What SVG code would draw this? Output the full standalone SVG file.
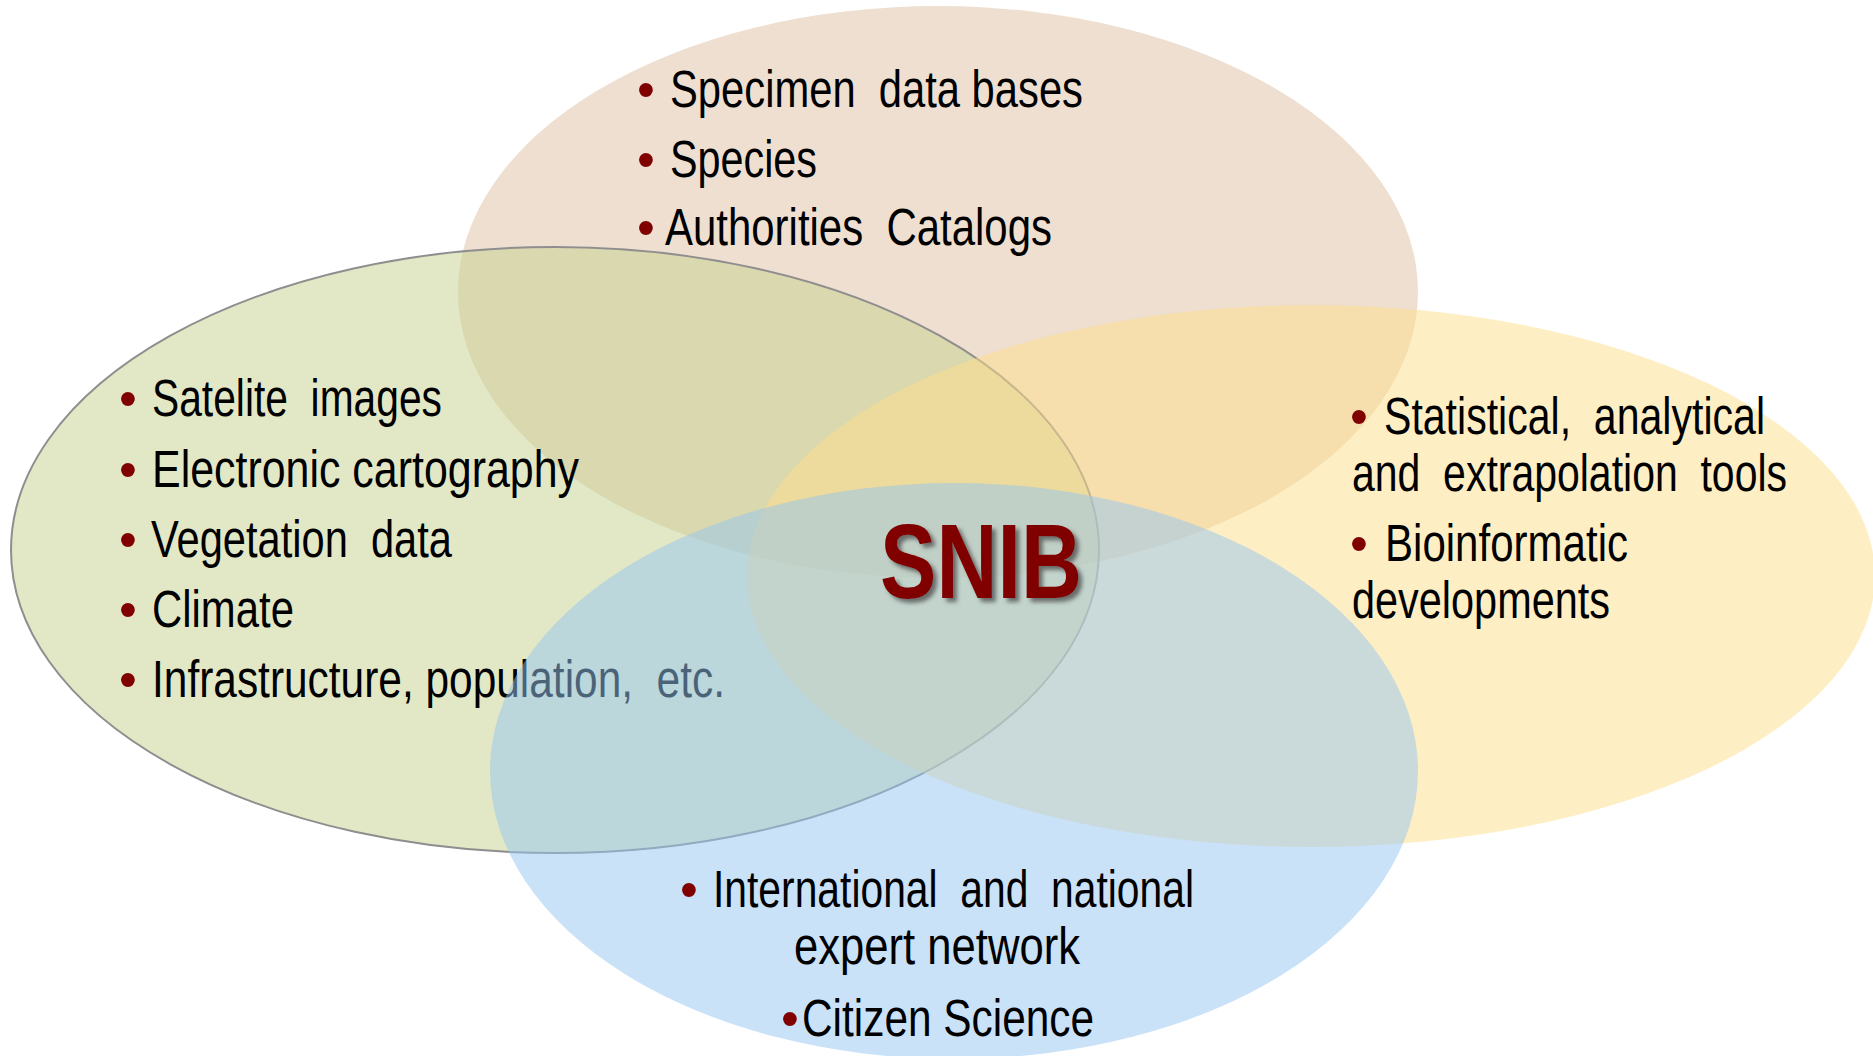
<svg xmlns="http://www.w3.org/2000/svg" width="1873" height="1056" viewBox="0 0 1873 1056">
<defs>
<style>
.t{font-family:"Liberation Sans",Arial,sans-serif;font-size:51px;fill:#000}
.b{font-family:"Liberation Sans",Arial,sans-serif;font-size:51px;fill:#800000;text-anchor:middle}
.e{fill-opacity:0.5}
</style>
<filter id="sh" x="-10%" y="-10%" width="130%" height="140%">
<feGaussianBlur in="SourceAlpha" stdDeviation="2"/>
<feOffset dx="4" dy="4" result="o"/>
<feFlood flood-color="#4a4a4a" flood-opacity="0.75"/>
<feComposite in2="o" operator="in" result="s"/>
<feMerge><feMergeNode in="s"/><feMergeNode in="SourceGraphic"/></feMerge>
</filter>
</defs>
<rect width="1873" height="1056" fill="#fff"/>
<g id="connectors"/>
<g id="node-top">
<ellipse class="e" cx="938" cy="292" rx="480" ry="286" fill="#DDBFA1"/>
<text class="b" x="646" y="107">•</text>
<text class="t" x="670" y="107" xml:space="preserve" textLength="413" lengthAdjust="spacingAndGlyphs">Specimen  data bases</text>
<text class="b" x="646" y="177">•</text>
<text class="t" x="670" y="177" textLength="147" lengthAdjust="spacingAndGlyphs">Species</text>
<text class="b" x="646" y="245">•</text>
<text class="t" x="665" y="245" xml:space="preserve" textLength="387" lengthAdjust="spacingAndGlyphs">Authorities  Catalogs</text>
</g>
<g id="node-left">
<ellipse class="e" cx="555" cy="550" rx="544" ry="303" fill="#C5D18D"/>
<ellipse cx="555" cy="550" rx="544" ry="303" fill="none" stroke="#8E8E8E" stroke-width="2"/>
<text class="b" x="128" y="416">•</text>
<text class="t" x="152" y="416" xml:space="preserve" textLength="290" lengthAdjust="spacingAndGlyphs">Satelite  images</text>
<text class="b" x="128" y="487">•</text>
<text class="t" x="152" y="487" textLength="427" lengthAdjust="spacingAndGlyphs">Electronic cartography</text>
<text class="b" x="128" y="557">•</text>
<text class="t" x="151" y="557" xml:space="preserve" textLength="301" lengthAdjust="spacingAndGlyphs">Vegetation  data</text>
<text class="b" x="128" y="627">•</text>
<text class="t" x="152" y="627" textLength="142" lengthAdjust="spacingAndGlyphs">Climate</text>
<text class="b" x="128" y="697">•</text>
<text class="t" x="152" y="697" xml:space="preserve" textLength="573" lengthAdjust="spacingAndGlyphs">Infrastructure, population,  etc.</text>
</g>
<g id="node-right">
<ellipse class="e" cx="1311" cy="576" rx="564" ry="271" fill="#FDDD89"/>
<text class="b" x="1359" y="434">•</text>
<text class="t" x="1384" y="434" xml:space="preserve" textLength="381" lengthAdjust="spacingAndGlyphs">Statistical,  analytical</text>
<text class="t" x="1352" y="491" xml:space="preserve" textLength="435" lengthAdjust="spacingAndGlyphs">and  extrapolation  tools</text>
<text class="b" x="1359" y="561">•</text>
<text class="t" x="1385" y="561" textLength="243" lengthAdjust="spacingAndGlyphs">Bioinformatic</text>
<text class="t" x="1352" y="618" textLength="258" lengthAdjust="spacingAndGlyphs">developments</text>
</g>
<g id="node-bottom">
<ellipse class="e" cx="954" cy="771" rx="464" ry="288" fill="#95C5F1"/>
<text class="b" x="689" y="907">•</text>
<text class="t" x="713" y="907" xml:space="preserve" textLength="481" lengthAdjust="spacingAndGlyphs">International  and  national</text>
<text class="t" x="794" y="964" textLength="286" lengthAdjust="spacingAndGlyphs">expert network</text>
<text class="b" x="790" y="1036">•</text>
<text class="t" x="802" y="1036" textLength="292" lengthAdjust="spacingAndGlyphs">Citizen Science</text>
</g>
<g id="node-center">
<text x="880" y="598" textLength="202" lengthAdjust="spacingAndGlyphs" filter="url(#sh)" style="font-family:'Liberation Sans',Arial,sans-serif;font-size:106px;font-weight:bold;fill:#800000">SNIB</text>
</g>
</svg>
